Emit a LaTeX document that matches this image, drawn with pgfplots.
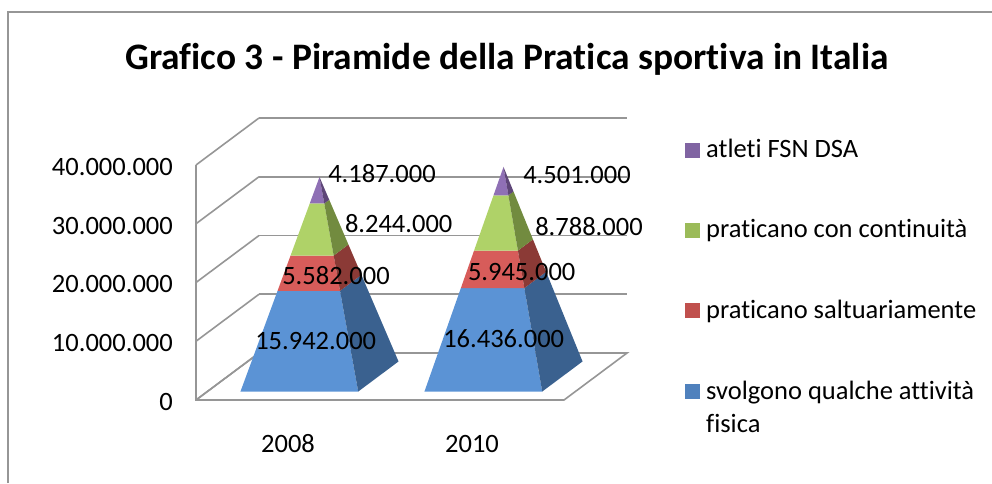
\documentclass[border=0pt]{standalone}
\usepackage{pgfplots}
\pgfplotsset{compat=1.18}
\usepackage{fontspec}
\setmainfont{Carlito}[Ligatures=NoCommon]
\definecolor{wall}{HTML}{969696}
\definecolor{bF}{HTML}{5B93D5}\definecolor{bS}{HTML}{3A618F}
\definecolor{rF}{HTML}{D75C5A}\definecolor{rS}{HTML}{8B3A36}
\definecolor{gF}{HTML}{AFD268}\definecolor{gS}{HTML}{728B3F}
\definecolor{pF}{HTML}{8F70B5}\definecolor{pS}{HTML}{5E4678}
\definecolor{lp}{HTML}{8064A2}\definecolor{lg}{HTML}{9BBB59}
\definecolor{lr}{HTML}{C0504D}\definecolor{lb}{HTML}{4F81BD}
\begin{document}
\begin{tikzpicture}[x=1pt,y=1pt]
\path[use as bounding box] (0,0) rectangle (992,483);
\draw[wall,line width=1.6pt] (8,0) -- (8,471) -- (992,471);
\begin{axis}[
  at={(196pt,83pt)},anchor=origin,
  x={(184pt,0pt)},y={(63pt,47pt)},z={(0pt,5.875pt)},
  xmin=0,xmax=2,ymin=0,ymax=1,zmin=0,zmax=40,
  axis line style={draw=none},
  xtick={0.5,1.5},xticklabels={2008,2010},
  ytick=\empty,
  ztick={0,10,20,30,40},
  zticklabels={0,10.000.000,20.000.000,30.000.000,40.000.000},
  major tick length=0pt,
  grid=none,
  zmajorgrids=true,
  major grid style={wall,line width=1.6pt},
  tick label style={font=\fontsize{26.5}{32}\selectfont,inner sep=0pt},
  z tick label style={anchor=east,xshift=-23pt,yshift=-2pt},
  x tick label style={anchor=center,yshift=-44pt},
  /pgf/number format/assume math mode=true,
  clip=false,
]
% frame
\addplot3[wall,line width=1.6pt] coordinates {(0,0,40) (0,0,0) (2,0,0) (2,1,0) (0,1,0) (0,0,0)};
% 2008
\addplot3[fill=bF,draw=none] coordinates {(0.18,0.18,0) (0.82,0.18,0) (0.66976,0.33024,15.942) (0.33024,0.33024,15.942)} -- cycle;
\addplot3[fill=bS,draw=none] coordinates {(0.82,0.18,0) (0.82,0.82,0) (0.66976,0.66976,15.942) (0.66976,0.33024,15.942)} -- cycle;
\addplot3[fill=rF,draw=none] coordinates {(0.33024,0.33024,15.942) (0.66976,0.33024,15.942) (0.61715,0.38285,21.524) (0.38285,0.38285,21.524)} -- cycle;
\addplot3[fill=rS,draw=none] coordinates {(0.66976,0.33024,15.942) (0.66976,0.66976,15.942) (0.61715,0.61715,21.524) (0.61715,0.38285,21.524)} -- cycle;
\addplot3[fill=gF,draw=none] coordinates {(0.38285,0.38285,21.524) (0.61715,0.38285,21.524) (0.53946,0.46054,29.768) (0.46054,0.46054,29.768)} -- cycle;
\addplot3[fill=gS,draw=none] coordinates {(0.61715,0.38285,21.524) (0.61715,0.61715,21.524) (0.53946,0.53946,29.768) (0.53946,0.46054,29.768)} -- cycle;
\addplot3[fill=pF,draw=none] coordinates {(0.46054,0.46054,29.768) (0.53946,0.46054,29.768) (0.5,0.5,33.955)} -- cycle;
\addplot3[fill=pS,draw=none] coordinates {(0.53946,0.46054,29.768) (0.53946,0.53946,29.768) (0.5,0.5,33.955)} -- cycle;
% 2010
\addplot3[fill=bF,draw=none] coordinates {(1.18,0.18,0) (1.82,0.18,0) (1.67255,0.32745,16.436) (1.32745,0.32745,16.436)} -- cycle;
\addplot3[fill=bS,draw=none] coordinates {(1.82,0.18,0) (1.82,0.82,0) (1.67255,0.67255,16.436) (1.67255,0.32745,16.436)} -- cycle;
\addplot3[fill=rF,draw=none] coordinates {(1.32745,0.32745,16.436) (1.67255,0.32745,16.436) (1.61922,0.38078,22.381) (1.38078,0.38078,22.381)} -- cycle;
\addplot3[fill=rS,draw=none] coordinates {(1.67255,0.32745,16.436) (1.67255,0.67255,16.436) (1.61922,0.61922,22.381) (1.61922,0.38078,22.381)} -- cycle;
\addplot3[fill=gF,draw=none] coordinates {(1.38078,0.38078,22.381) (1.61922,0.38078,22.381) (1.54038,0.45962,31.169) (1.45962,0.45962,31.169)} -- cycle;
\addplot3[fill=gS,draw=none] coordinates {(1.61922,0.38078,22.381) (1.61922,0.61922,22.381) (1.54038,0.54038,31.169) (1.54038,0.45962,31.169)} -- cycle;
\addplot3[fill=pF,draw=none] coordinates {(1.45962,0.45962,31.169) (1.54038,0.45962,31.169) (1.5,0.5,35.670)} -- cycle;
\addplot3[fill=pS,draw=none] coordinates {(1.54038,0.45962,31.169) (1.54038,0.54038,31.169) (1.5,0.5,35.670)} -- cycle;
\end{axis}
\tikzset{lab/.style={font=\fontsize{26.5}{32}\selectfont,inner sep=0pt,text=black}}
\node[lab] at (382,309) {4.187.000};
\node[lab] at (398.7,259) {8.244.000};
\node[lab] at (336,207.3) {5.582.000};
\node[lab] at (315.7,142.3) {15.942.000};
\node[lab] at (577,308.3) {4.501.000};
\node[lab] at (589,256.3) {8.788.000};
\node[lab] at (521.7,211) {5.945.000};
\node[lab] at (503.7,144) {16.436.000};
\node[font=\fontsize{37.4}{44}\selectfont\bfseries,inner sep=0pt] at (507,424) {Grafico 3 - Piramide della Pratica sportiva in Italia};
\foreach \c/\t/\yy/\bb in {lp/atleti FSN DSA/332.5/326,lg/praticano con continuità/252.5/246,lr/praticano saltuariamente/172.5/165,lb/svolgono qualche attività/91.5/84}{
  \fill[\c] (685,\yy-7.5) rectangle (700,\yy+7.5);
  \node[lab,anchor=base west] at (706,\bb) {\t};
}
\node[lab,anchor=base west] at (706,51) {fisica};
\end{tikzpicture}
\end{document}
